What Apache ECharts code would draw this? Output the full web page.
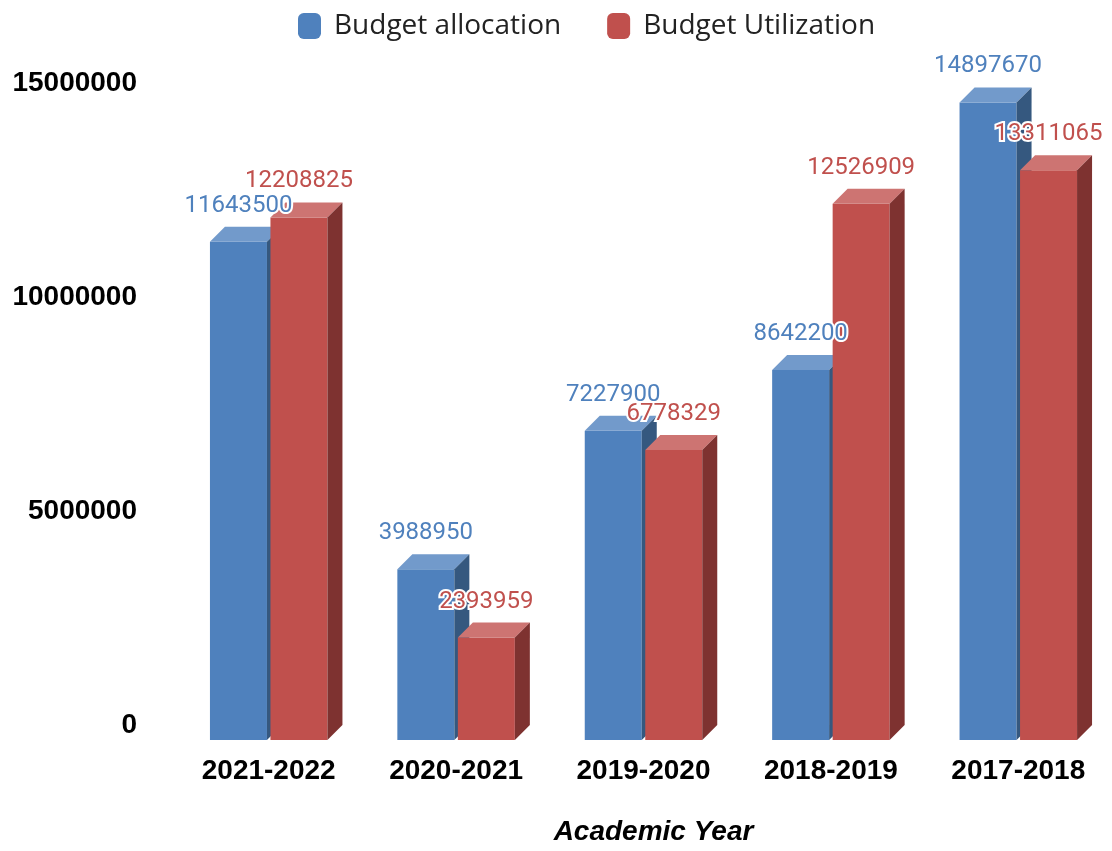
<!DOCTYPE html>
<html><head><meta charset="utf-8">
<script src="https://cdn.jsdelivr.net/npm/echarts@6/dist/echarts.min.js"></script>
<style>html,body{margin:0;padding:0;background:#fff}#c{width:1112px;height:851px}</style>
</head><body><div id="c"></div>
<script>
var categories = ['2021-2022', '2020-2021', '2019-2020', '2018-2019', '2017-2018'];
var allocation = [11643500, 3988950, 7227900, 8642200, 14897670];
var utilization = [12208825, 2393959, 6778329, 12526909, 13311065];
var yTicks = [0, 5000000, 10000000, 15000000];

var palettes = [
  {front: '#4F81BD', top: '#729ACB', side: '#35587F', label: '#4F81BD'},
  {front: '#C0504D', top: '#CD7472', side: '#7E3230', label: '#C0504D'}
];
var DX = 15, DY = 15, BW = 57, GAP = 3.5;

function make(seriesIdx) {
  return function (params, api) {
    var cat = api.value(0), val = api.value(1);
    var p = api.coord([cat, val]);
    var p0 = api.coord([cat, 0]);
    var cx = p[0];
    var x0 = seriesIdx === 0 ? cx - GAP / 2 - BW : cx + GAP / 2;
    var x1 = x0 + BW;
    var yv = p[1], yb = p0[1];
    var pal = palettes[seriesIdx];
    return {
      type: 'group',
      children: [
        {type: 'polygon', shape: {points: [[x0, yv + DY], [x1, yv + DY], [x1, yb + DY], [x0, yb + DY]]}, style: {fill: pal.front}},
        {type: 'polygon', shape: {points: [[x0, yv + DY], [x1, yv + DY], [x1 + DX, yv], [x0 + DX, yv]]}, style: {fill: pal.top}},
        {type: 'polygon', shape: {points: [[x1, yv + DY], [x1 + DX, yv], [x1 + DX, yb], [x1, yb + DY]]}, style: {fill: pal.side}},
        {type: 'text', z2: 100, style: {
          text: String(val), x: (x0 + x1) / 2, y: yv - 9,
          align: 'center', verticalAlign: 'bottom',
          fill: pal.label, stroke: '#fff', lineWidth: 4,
          font: '24px Roboto'
        }}
      ]
    };
  };
}

var chart = echarts.init(document.getElementById('c'));
chart.setOption({
  animation: false,
  backgroundColor: '#fff',
  legend: {
    top: 6, left: 293, itemGap: 46,
    icon: 'roundRect', itemWidth: 23, itemHeight: 26,
    textStyle: {fontFamily: 'Open Sans', fontSize: 28, lineHeight: 30, color: '#222', padding: [0, 0, 0, 8]},
    data: ['Budget allocation', 'Budget Utilization']
  },
  grid: {left: 175, width: 940, top: 83, height: 648},
  xAxis: {
    type: 'category', data: categories,
    axisLine: {show: false}, axisTick: {show: false},
    axisLabel: {margin: 32, fontFamily: 'Liberation Sans', fontWeight: 'bold', fontSize: 28, color: '#000'},
    name: 'Academic Year', nameLocation: 'middle', nameGap: 93,
    nameTextStyle: {fontFamily: 'Liberation Sans', fontWeight: 'bold', fontStyle: 'italic', fontSize: 28, color: '#000', padding: [0, 0, 0, 20]}
  },
  yAxis: {
    type: 'value', min: yTicks[0], max: yTicks[yTicks.length - 1], interval: yTicks[1] - yTicks[0],
    axisLine: {show: false}, axisTick: {show: false}, splitLine: {show: false},
    axisLabel: {margin: 38, fontFamily: 'Liberation Sans', fontWeight: 'bold', fontSize: 28, color: '#000',
      formatter: function (v) { return String(v); }}
  },
  series: [
    {name: 'Budget allocation', type: 'custom', itemStyle: {color: palettes[0].front},
     data: allocation.map(function (v, i) { return [i, v]; }), renderItem: make(0), encode: {x: 0, y: 1}},
    {name: 'Budget Utilization', type: 'custom', itemStyle: {color: palettes[1].front},
     data: utilization.map(function (v, i) { return [i, v]; }), renderItem: make(1), encode: {x: 0, y: 1}}
  ]
});
</script></body></html>
